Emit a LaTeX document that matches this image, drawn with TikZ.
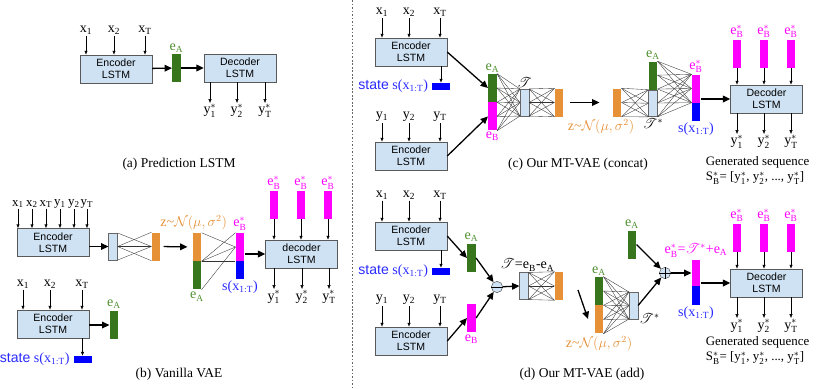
\documentclass[tikz,border=0pt]{standalone}
\usepackage{amsmath}
\usepackage{mathrsfs}
\usepackage{fontspec}
\setmainfont{Liberation Serif}
\setsansfont{Liberation Sans}
\usepackage{xcolor}
\usepackage{tikz}
\usetikzlibrary{arrows.meta,positioning,calc}
\definecolor{lstmblue}{HTML}{CFE2F3}
\definecolor{eagreen}{HTML}{38761D}
\definecolor{eatext}{HTML}{4E8F2E}
\definecolor{ebpink}{HTML}{FF00FF}
\definecolor{sblue}{HTML}{0000FF}
\definecolor{stext}{HTML}{2A2AFF}
\definecolor{zorange}{HTML}{E69138}

\newcommand{\vsub}[2]{$\mathrm{#1}_{\mathrm{#2}}$}
\newcommand{\vstar}[2]{$\mathrm{#1}_{\mathrm{#2}}^{*}$}
% fully connected lines between two bar edges
\newcommand{\fcnet}[6]{%
  \foreach \i in {0,...,#3}{
    \foreach \j in {0,...,#6}{
      \pgfmathsetmacro\fa{\i/#3}
      \pgfmathsetmacro\fb{\j/#6}
      \draw[wire] ($(#1)!\fa!(#2)$) -- ($(#4)!\fb!(#5)$);
    }
  }%
}

\begin{document}
\begin{tikzpicture}[
        x=0.03cm, y=-0.03cm,
        lstm/.style={rectangle, draw=black!65, fill=lstmblue, minimum width=2.16cm,
                     minimum height=0.84cm, align=center, inner sep=0pt,
                     font=\sffamily\fontsize{9}{10.5}\selectfont},
        bar/.style={rectangle, inner sep=0pt, minimum width=0.26cm, minimum height=0.84cm},
        hbar/.style={bar, minimum height=0.54cm},
        tbar/.style={bar, fill=lstmblue, draw=black!60, minimum height=0.8cm},
        srect/.style={rectangle, inner sep=0pt, fill=sblue, minimum width=0.54cm,
                      minimum height=0.21cm},
        op/.style={circle, draw=black!70, fill=lstmblue, minimum size=0.34cm, inner sep=0pt},
        lbl/.style={inner sep=1pt, font=\fontsize{12}{13}\selectfont},
        lblsm/.style={inner sep=0.5pt, font=\fontsize{11}{12}\selectfont},
        captxt/.style={inner sep=1pt, font=\fontsize{11.5}{13}\selectfont},
        a/.style={-{Triangle[length=2.2mm, width=2mm]}, line width=1.1pt},
        inp/.style={-{Latex[length=1.2mm, width=1mm]}, thin},
        wire/.style={black!80, line width=0.3pt}
    ]
        \useasboundingbox (0,0) rectangle (822,388);

        % (a) prediction LSTM
        \node[lstm] (encA) at (116,69) {Encoder\\LSTM};
        \node[bar, fill=eagreen] (eA) at (176.5,68) {};
        \node[lstm] (decA) at (240,68) {Decoder\\LSTM};
        \node[lbl, text=eatext, above=0pt of eA] (eAlab) {\vsub{e}{A}};
        \node[lbl] (xA1) at (86,30) {\vsub{x}{1}};
        \node[lbl] (xA2) at (114,30) {\vsub{x}{2}};
        \node[lbl] (xAT) at (145,30) {\vsub{x}{T}};
        \node[lbl] (yA1) at (210,111) {\vstar{y}{1}};
        \node[lbl] (yA2) at (237,111) {\vstar{y}{2}};
        \node[lbl] (yAT) at (265,111) {\vstar{y}{T}};
        \node[captxt] (capA) at (179,164) {(a) Prediction LSTM};

        \draw[inp] (xA1) -- (xA1 |- encA.north);
        \draw[inp] (xA2) -- (xA2 |- encA.north);
        \draw[inp] (xAT) -- (xAT |- encA.north);
        \draw[a] (encA) -- (eA);
        \draw[a] (eA) -- (decA);
        \draw[inp] (yA1 |- decA.south) -- (yA1);
        \draw[inp] (yA2 |- decA.south) -- (yA2);
        \draw[inp] (yAT |- decA.south) -- (yAT);

        % separator
        \draw[black!60, dash pattern=on 1.5pt off 1.5pt] (352,0) -- (352,388);

        % (b) vanilla VAE
        \node[lstm] (encB) at (53,242.5) {Encoder\\LSTM};
        \node[lblsm] (xB1) at (18,204) {\vsub{x}{1}};
        \node[lblsm] (xB2) at (32,204) {\vsub{x}{2}};
        \node[lblsm] (xBT) at (46,204) {\vsub{x}{T}};
        \node[lblsm] (yB1) at (60,204) {\vsub{y}{1}};
        \node[lblsm] (yB2) at (74,204) {\vsub{y}{2}};
        \node[lblsm] (yBT) at (87,204) {\vsub{y}{T}};
        \node[tbar] (fcB) at (113,246.5) {};
        \node[bar, fill=zorange] (muB) at (156,246.5) {};
        \node[bar, fill=zorange] (zoB) at (197,247) {};
        \node[bar, fill=eagreen, below=0pt of zoB] (zgB) {};
        \node[lbl, text=zorange, above=1pt of zoB, xshift=-0.1cm] (zBlab) {z\textasciitilde$\mathcal{N}(\mu,\sigma^2)$};
        \node[lbl, text=eatext, below=1pt of zgB] (eABlab) {\vsub{e}{A}};
        \node[bar, fill=ebpink] (ebB) at (240,247) {};
        \node[hbar, fill=sblue, below=0pt of ebB] (sB) {};
        \node[lbl, text=ebpink, above=1pt of ebB] (ebBlab) {\vstar{e}{B}};
        \node[lbl, text=stext, below=0pt of sB] (sBlab) {s(x$_{\mathrm{1:T}}$)};
        \node[lstm] (decB) at (301.5,254) {decoder\\LSTM};
        \node[bar, fill=ebpink] (eb1B) at (274,205) {};
        \node[bar, fill=ebpink] (eb2B) at (301,205) {};
        \node[bar, fill=ebpink] (eb3B) at (328,205) {};
        \node[lbl, text=ebpink, above=0pt of eb1B] (eb1Blab) {\vstar{e}{B}};
        \node[lbl, text=ebpink, above=0pt of eb2B] (eb2Blab) {\vstar{e}{B}};
        \node[lbl, text=ebpink, above=0pt of eb3B] (eb3Blab) {\vstar{e}{B}};
        \node[lbl] (oB1) at (274,297) {\vstar{y}{1}};
        \node[lbl] (oB2) at (302,297) {\vstar{y}{2}};
        \node[lbl] (oBT) at (329,297) {\vstar{y}{T}};
        \node[lstm] (encB2) at (53,324) {Encoder\\LSTM};
        \node[lbl] (xB1b) at (23,284) {\vsub{x}{1}};
        \node[lbl] (xB2b) at (50,284) {\vsub{x}{2}};
        \node[lbl] (xBTb) at (82,284) {\vsub{x}{T}};
        \node[bar, fill=eagreen] (eAB) at (114,325) {};
        \node[lbl, text=eatext, above=1pt of eAB] (eAB2lab) {\vsub{e}{A}};
        \node[srect] (stB) at (82.5,359.5) {};
        \node[lbl, text=stext, left=2pt of stB] (stBlab) {\textsf{state} s(x$_{\mathrm{1:T}}$)};
        \node[captxt] (capB) at (179,374) {(b) Vanilla VAE};

        \draw[inp] (xB1) -- (xB1 |- encB.north);
        \draw[inp] (xB2) -- (xB2 |- encB.north);
        \draw[inp] (xBT) -- (xBT |- encB.north);
        \draw[inp] (yB1) -- (yB1 |- encB.north);
        \draw[inp] (yB2) -- (yB2 |- encB.north);
        \draw[inp] (yBT) -- (yBT |- encB.north);
        \draw[a] (encB.east |- fcB.west) -- (fcB.west);
        \draw[wire] (fcB.north east) -- (muB.west);
        \draw[wire] (fcB.east) -- (muB.north west);
        \draw[wire] (fcB.east) -- (muB.west);
        \draw[wire] (fcB.east) -- (muB.south west);
        \draw[wire] (fcB.south east) -- (muB.west);
        \draw[a, shorten <=0.09cm, shorten >=0.15cm] (muB.east) -- (zoB.west);
        \draw[wire] (zoB.north east) -- (ebB.west);
        \draw[wire] (zoB.south east) -- (ebB.north west);
        \draw[wire] (zoB.south east) -- (ebB.west);
        \draw[wire] (zoB.south east) -- (ebB.south west);
        \draw[wire] (zgB.south east) -- (ebB.west);
        \draw[a] (ebB.east |- decB.west) -- (decB.west);
        \draw[inp] (eb1B) -- (eb1B |- decB.north);
        \draw[inp] (eb2B) -- (eb2B |- decB.north);
        \draw[inp] (eb3B) -- (eb3B |- decB.north);
        \draw[inp] (oB1 |- decB.south) -- (oB1);
        \draw[inp] (oB2 |- decB.south) -- (oB2);
        \draw[inp] (oBT |- decB.south) -- (oBT);
        \draw[inp] (xB1b) -- (xB1b |- encB2.north);
        \draw[inp] (xB2b) -- (xB2b |- encB2.north);
        \draw[inp] (xBTb) -- (xBTb |- encB2.north);
        \draw[a] (encB2.east |- eAB.west) -- (eAB.west);
        \draw[inp] (stB |- encB2.south) -- (stB.north);

        % (c) MT-VAE concat
        \node[lstm] (encC1) at (411,52) {Encoder\\LSTM};
        \node[lstm] (encC2) at (411,156) {Encoder\\LSTM};
        \node[lbl] (xC1) at (382,12) {\vsub{x}{1}};
        \node[lbl] (xC2) at (409,12) {\vsub{x}{2}};
        \node[lbl] (xCT) at (440,12) {\vsub{x}{T}};
        \node[lbl] (yC1) at (382,117) {\vsub{y}{1}};
        \node[lbl] (yC2) at (409,117) {\vsub{y}{2}};
        \node[lbl] (yCT) at (440,117) {\vsub{y}{T}};
        \node[srect] (stC) at (441,86.5) {};
        \node[lbl, text=stext, left=2pt of stC] (stClab) {\textsf{state} s(x$_{\mathrm{1:T}}$)};
        \node[bar, fill=eagreen] (eAc) at (492.5,88) {};
        \node[bar, fill=ebpink, below=0pt of eAc] (eBc) {};
        \node[lbl, text=eatext, above=0pt of eAc] (eAclab) {\vsub{e}{A}};
        \node[lbl, text=ebpink, below=0pt of eBc] (eBclab) {\vsub{e}{B}};
        \node[tbar] (tC) at (524.5,102.5) {};
        \node[lbl, above=0pt of tC] (tClab) {$\mathscr{T}$};
        \node[bar, fill=zorange] (orC) at (559,102.5) {};
        \node[bar, fill=zorange] (orC2) at (617,102.5) {};
        \node[lbl, text=zorange, below=1pt of orC2, xshift=-0.48cm] (zClab) {z\textasciitilde$\mathcal{N}(\mu,\sigma^2)$};
        \node[bar, fill=eagreen] (eAc2) at (653,75.5) {};
        \node[tbar, below=0pt of eAc2] (tsC) {};
        \node[lbl, text=eatext, above=0pt of eAc2] (eAc2lab) {\vsub{e}{A}};
        \node[lbl, below=0pt of tsC] (tsClab) {$\mathscr{T}^{*}$};
        \node[bar, fill=ebpink] (ebC) at (696,88.5) {};
        \node[hbar, fill=sblue, below=0pt of ebC] (sC) {};
        \node[lbl, text=ebpink, above=0pt of ebC] (ebClab) {\vstar{e}{B}};
        \node[lbl, text=stext, below=0pt of sC] (sClab) {s(x$_{\mathrm{1:T}}$)};
        \node[lstm] (decC) at (766.5,99) {Decoder\\LSTM};
        \node[bar, fill=ebpink] (eb1C) at (737,53.5) {};
        \node[bar, fill=ebpink] (eb2C) at (764,53.5) {};
        \node[bar, fill=ebpink] (eb3C) at (791,53.5) {};
        \node[lbl, text=ebpink, above=0pt of eb1C] (eb1Clab) {\vstar{e}{B}};
        \node[lbl, text=ebpink, above=0pt of eb2C] (eb2Clab) {\vstar{e}{B}};
        \node[lbl, text=ebpink, above=0pt of eb3C] (eb3Clab) {\vstar{e}{B}};
        \node[lbl] (oC1) at (737,142) {\vstar{y}{1}};
        \node[lbl] (oC2) at (764,142) {\vstar{y}{2}};
        \node[lbl] (oCT) at (791,142) {\vstar{y}{T}};
        \node[lblsm, anchor=west] (genC) at (705,162) {Generated sequence};
        \node[lblsm, anchor=west] (seqC) at (705,178) {S$_{\mathrm{B}}^{*}$= [\vstar{y}{1}, \vstar{y}{2}, ..., \vstar{y}{T}]};
        \node[captxt] (capC) at (578,164) {(c) Our MT-VAE (concat)};

        \draw[inp] (xC1) -- (xC1 |- encC1.north);
        \draw[inp] (xC2) -- (xC2 |- encC1.north);
        \draw[inp] (xCT) -- (xCT |- encC1.north);
        \draw[inp] (yC1) -- (yC1 |- encC2.north);
        \draw[inp] (yC2) -- (yC2 |- encC2.north);
        \draw[inp] (yCT) -- (yCT |- encC2.north);
        \draw[inp] (stC |- encC1.south) -- (stC.north);
        \draw[a] (encC1.east) -- (eAc.west);
        \draw[a] (encC2.east) -- (eBc.west);
        \fcnet{eAc.north east}{eBc.south east}{4}{tC.north west}{tC.south west}{2}
        \fcnet{tC.north east}{tC.south east}{2}{orC.north west}{orC.south west}{2}
        \draw[a, shorten <=0.2cm, shorten >=0.39cm] (orC.east) -- (orC2.west);
        \fcnet{orC2.north east}{orC2.south east}{2}{tsC.north west}{tsC.south west}{2}
        \fcnet{eAc2.north east}{tsC.south east}{4}{ebC.north west}{ebC.south west}{2}
        \draw[a] (ebC.east |- decC.west) -- (decC.west);
        \draw[inp] (eb1C) -- (eb1C |- decC.north);
        \draw[inp] (eb2C) -- (eb2C |- decC.north);
        \draw[inp] (eb3C) -- (eb3C |- decC.north);
        \draw[inp] (oC1 |- decC.south) -- (oC1);
        \draw[inp] (oC2 |- decC.south) -- (oC2);
        \draw[inp] (oCT |- decC.south) -- (oCT);

        % (d) MT-VAE add
        \node[lstm] (encD1) at (411,236) {Encoder\\LSTM};
        \node[lstm] (encD2) at (411,341) {Encoder\\LSTM};
        \node[lbl] (xD1) at (382,195) {\vsub{x}{1}};
        \node[lbl] (xD2) at (409,195) {\vsub{x}{2}};
        \node[lbl] (xDT) at (440,195) {\vsub{x}{T}};
        \node[lbl] (yD1) at (382,300) {\vsub{y}{1}};
        \node[lbl] (yD2) at (409,300) {\vsub{y}{2}};
        \node[lbl] (yDT) at (440,300) {\vsub{y}{T}};
        \node[srect] (stD) at (441,271.5) {};
        \node[lbl, text=stext, left=2pt of stD] (stDlab) {\textsf{state} s(x$_{\mathrm{1:T}}$)};
        \node[bar, fill=eagreen] (eAd) at (471.5,258) {};
        \node[bar, fill=ebpink] (eBd) at (471.5,318) {};
        \node[lbl, text=eatext, above=1pt of eAd] (eAdlab) {\vsub{e}{A}};
        \node[lbl, text=ebpink, below=1pt of eBd] (eBdlab) {\vsub{e}{B}};
        \node[op] (minusD) at (497,287) {};
        \node[tbar] (tD) at (524,286) {};
        \node[lbl, above=0pt of tD, xshift=0.1cm] (tDlab) {$\mathscr{T}$=e$_{\mathrm{B}}$-e$_{\mathrm{A}}$};
        \node[bar, fill=zorange] (orD) at (559,286) {};
        \coordinate (dz1) at (578,290);
        \coordinate (dz2) at (588,319);
        \node[bar, fill=eagreen] (zgD) at (599,291) {};
        \node[bar, fill=zorange, below=0pt of zgD] (zoD) {};
        \node[lbl, text=eatext, above=0pt of zgD] (zgDlab) {\vsub{e}{A}};
        \node[lbl, text=zorange, below=1pt of zoD] (zDlab) {z\textasciitilde$\mathcal{N}(\mu,\sigma^2)$};
        \node[tbar] (tsD) at (633.5,305.5) {};
        \node[lbl, anchor=west] (tsDlab) at (tsD.south east) {$\mathscr{T}^{*}$};
        \node[bar, fill=eagreen] (eAd2) at (632,244.5) {};
        \node[lbl, text=eatext, above=0pt of eAd2] (eAd2lab) {\vsub{e}{A}};
        \node[op] (plusD) at (665,273) {};
        \node[bar, fill=ebpink, minimum height=0.78cm] (ebD) at (696,273) {};
        \node[hbar, fill=sblue, minimum height=0.57cm, below=0pt of ebD] (sD) {};
        \node[lbl, text=ebpink, above=1pt of ebD] (ebDlab) {\vstar{e}{B}=$\mathscr{T}^{*}$+e$_{\mathrm{A}}$};
        \node[lbl, text=stext, below=0pt of sD] (sDlab) {s(x$_{\mathrm{1:T}}$)};
        \node[lstm] (decD) at (766.5,283) {Decoder\\LSTM};
        \node[bar, fill=ebpink] (eb1D) at (737,237.5) {};
        \node[bar, fill=ebpink] (eb2D) at (764,237.5) {};
        \node[bar, fill=ebpink] (eb3D) at (791,237.5) {};
        \node[lbl, text=ebpink, above=0pt of eb1D] (eb1Dlab) {\vstar{e}{B}};
        \node[lbl, text=ebpink, above=0pt of eb2D] (eb2Dlab) {\vstar{e}{B}};
        \node[lbl, text=ebpink, above=0pt of eb3D] (eb3Dlab) {\vstar{e}{B}};
        \node[lbl] (oD1) at (737,326) {\vstar{y}{1}};
        \node[lbl] (oD2) at (764,326) {\vstar{y}{2}};
        \node[lbl] (oDT) at (791,326) {\vstar{y}{T}};
        \node[lblsm, anchor=west] (genD) at (705,342) {Generated sequence};
        \node[lblsm, anchor=west] (seqD) at (705,358) {S$_{\mathrm{B}}^{*}$= [\vstar{y}{1}, \vstar{y}{2}, ..., \vstar{y}{T}]};
        \node[captxt] (capD) at (582,374) {(d) Our MT-VAE (add)};

        \draw[inp] (xD1) -- (xD1 |- encD1.north);
        \draw[inp] (xD2) -- (xD2 |- encD1.north);
        \draw[inp] (xDT) -- (xDT |- encD1.north);
        \draw[inp] (yD1) -- (yD1 |- encD2.north);
        \draw[inp] (yD2) -- (yD2 |- encD2.north);
        \draw[inp] (yDT) -- (yDT |- encD2.north);
        \draw[inp] (stD |- encD1.south) -- (stD.north);
        \draw[a] (encD1.east) -- (eAd.west);
        \draw[a] (encD2.east) -- (eBd.west);
        \draw[a] (eAd.east) -- (minusD);
        \draw[a] (eBd.east) -- (minusD);
        \draw (minusD.west) -- (minusD.east);
        \draw[a] (minusD) -- (tD.west);
        \fcnet{tD.north east}{tD.south east}{2}{orD.north west}{orD.south west}{2}
        \draw[a] (dz1) -- (dz2);
        \fcnet{zgD.north east}{zoD.south east}{4}{tsD.north west}{tsD.south west}{2}
        \draw[a] (eAd2.east) -- (plusD);
        \draw[a] (tsD.east) -- (plusD);
        \draw (plusD.west) -- (plusD.east) (plusD.north) -- (plusD.south);
        \draw[a] (plusD) -- (ebD.west);
        \draw[a] (ebD.east |- decD.west) -- (decD.west);
        \draw[inp] (eb1D) -- (eb1D |- decD.north);
        \draw[inp] (eb2D) -- (eb2D |- decD.north);
        \draw[inp] (eb3D) -- (eb3D |- decD.north);
        \draw[inp] (oD1 |- decD.south) -- (oD1);
        \draw[inp] (oD2 |- decD.south) -- (oD2);
        \draw[inp] (oDT |- decD.south) -- (oDT);
    \end{tikzpicture}
\end{document}
